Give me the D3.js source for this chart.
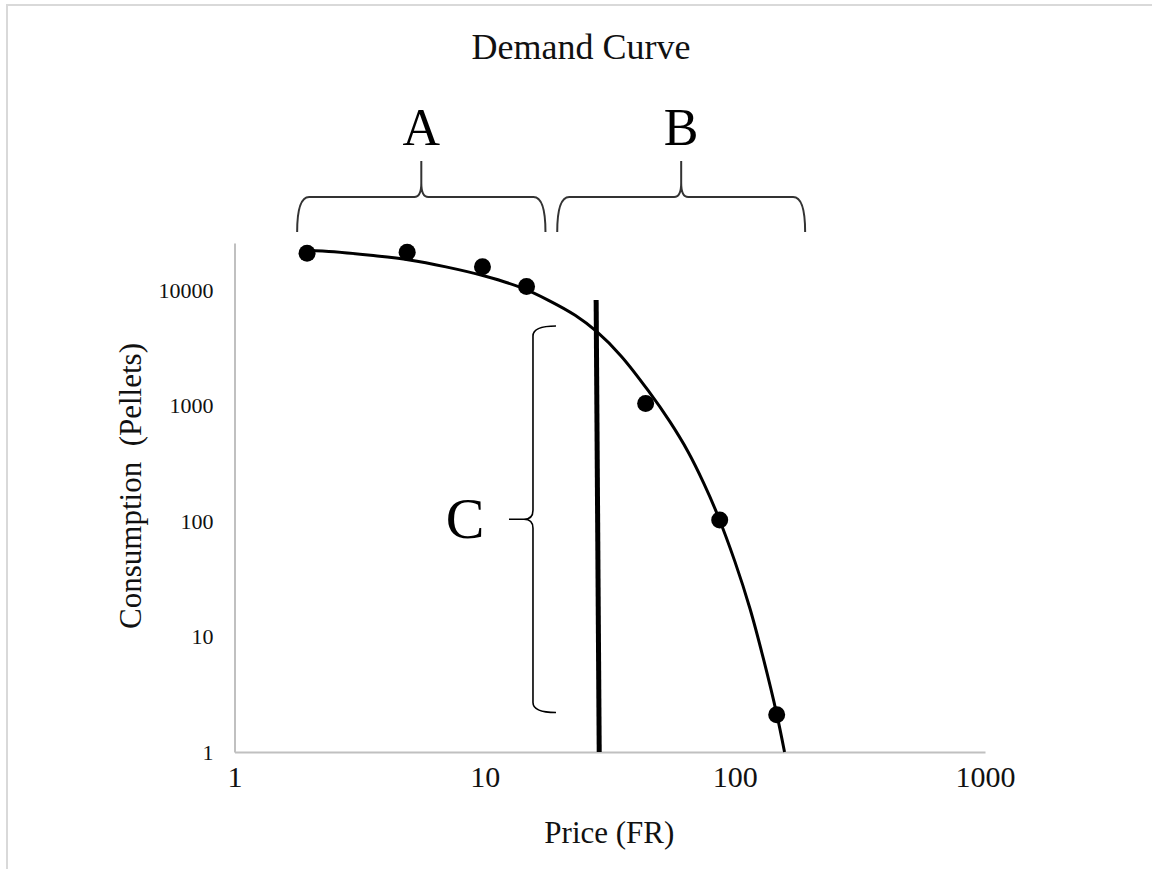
<!DOCTYPE html>
<html>
<head>
<meta charset="utf-8">
<script src="https://cdn.jsdelivr.net/npm/d3@7/dist/d3.min.js"></script>
<style>
  body { margin: 0; background: #fff; }
  svg { display: block; font-family: "Liberation Serif", "Times New Roman", serif; }
</style>
</head>
<body>
<svg id="chart"></svg>
<script>
// measured points (price in FR, consumption in pellets)
const pointPrice = [1.95, 4.9, 9.8, 14.7, 44, 87, 147];
const pointConsumption = [20800, 21200, 15900, 10700, 1040, 102, 2.1];

// fitted demand curve
const curvePrice = [1.95, 2.5, 3.5, 5, 7, 10, 14, 18, 23, 28, 35, 45, 55, 65, 75, 85, 100, 115, 130, 147, 158];
const curveConsumption = [22100, 21400, 19950, 18200, 15850, 13200, 10470, 8130, 6030, 4370, 2700, 1350, 724, 398, 214, 115, 44.7, 17.4, 6.46, 2.14, 1];

// vertical marker line (top, bottom)
const markerPrice = [27.9, 28.7];
const markerConsumption = [8190, 1];

const xTicks = [1, 10, 100, 1000];
const yTicks = [1, 10, 100, 1000, 10000];

// brace annotations
const braceLabels = ['A', 'B'];
const bracePriceFrom = [1.78, 19.5];
const bracePriceTo = [17.5, 191];
const braceCLabel = 'C';
const braceCConsumption = [4880, 2.2];
const braceCPrice = 15.6;

class DemandChart {

  constructor(_config) {
    this.config = {
      parentElement: _config.parentElement,
      containerWidth: _config.containerWidth || 1152,
      containerHeight: _config.containerHeight || 869,
      margin: { top: 243, bottom: 117, right: 167, left: 234.5 }
    }
    this.initVis();
  }

  initVis() {
    let vis = this;

    vis.width = vis.config.containerWidth - vis.config.margin.left - vis.config.margin.right;
    vis.height = vis.config.containerHeight - vis.config.margin.top - vis.config.margin.bottom;

    vis.svg = d3.select(vis.config.parentElement)
        .attr('width', vis.config.containerWidth)
        .attr('height', vis.config.containerHeight);

    // light frame, only top and left show up in the picture
    vis.svg.append('rect')
        .attr('x', 7).attr('y', 5)
        .attr('width', 1300).attr('height', 1000)
        .attr('fill', 'none')
        .attr('stroke', '#d9d9d9')
        .attr('stroke-width', 2);

    vis.chart = vis.svg.append('g')
        .attr('transform', `translate(${vis.config.margin.left},${vis.config.margin.top})`);

    vis.xScale = d3.scaleLog()
        .domain([1, 1000])
        .range([0, vis.width]);

    vis.yScale = d3.scaleLog()
        .domain([1, 25500])
        .range([vis.height, 0]);

    // axes: plain gray lines, no ticks
    vis.xAxis = d3.axisBottom(vis.xScale).tickValues(xTicks).tickSize(0).tickPadding(14).tickFormat(d3.format('d'));
    vis.yAxis = d3.axisLeft(vis.yScale).tickValues(yTicks).tickSize(0).tickPadding(21).tickFormat(d3.format('d'));

    vis.xAxisG = vis.chart.append('g')
        .attr('class', 'axis x-axis')
        .attr('transform', `translate(0,${vis.height})`)
        .call(vis.xAxis);

    vis.yAxisG = vis.chart.append('g')
        .attr('class', 'axis y-axis')
        .call(vis.yAxis);

    vis.chart.selectAll('.axis path')
        .attr('stroke', '#c0c0c0')
        .attr('stroke-width', 2);

    vis.xAxisG.selectAll('text')
        .attr('font-family', '"Liberation Serif", serif')
        .attr('font-size', 30)
        .attr('fill', '#111');

    vis.yAxisG.selectAll('text')
        .attr('font-family', '"Liberation Serif", serif')
        .attr('font-size', 22)
        .attr('fill', '#111');

    vis.updateVis();
  }

  updateVis() {
    let vis = this;

    vis.points = pointPrice.map((p, i) => ({ price: p, value: pointConsumption[i] }));
    vis.curve = curvePrice.map((p, i) => ({ price: p, value: curveConsumption[i] }));
    vis.marker = markerPrice.map((p, i) => ({ price: p, value: markerConsumption[i] }));

    vis.renderVis();
  }

  renderVis() {
    let vis = this;
    const x = vis.xScale, y = vis.yScale;

    const line = d3.line()
        .x(d => x(d.price))
        .y(d => y(d.value))
        .curve(d3.curveCatmullRom.alpha(0.5));

    vis.chart.append('path')
        .datum(vis.curve)
        .attr('fill', 'none')
        .attr('stroke', '#000')
        .attr('stroke-width', 3)
        .attr('d', line);

    vis.chart.selectAll('.dot')
      .data(vis.points)
      .enter()
      .append('circle')
        .attr('class', 'dot')
        .attr('cx', d => x(d.price))
        .attr('cy', d => y(d.value))
        .attr('r', 8.5)
        .attr('fill', '#000');

    // thick vertical line
    vis.chart.append('line')
        .attr('x1', x(vis.marker[0].price))
        .attr('y1', y(vis.marker[0].value))
        .attr('x2', x(vis.marker[1].price))
        .attr('y2', y(vis.marker[1].value))
        .attr('stroke', '#000')
        .attr('stroke-width', 5);

    // horizontal braces A and B above the plot
    const yH = -46, yEnd = -11, yTop = -82;
    braceLabels.forEach((lab, i) => {
      const x0 = x(bracePriceFrom[i]), x1 = x(bracePriceTo[i]);
      const xm = (x0 + x1) / 2;
      const p = d3.path();
      p.moveTo(x0, yEnd);
      p.quadraticCurveTo(x0, yH, x0 + 12, yH);
      p.lineTo(xm - 7, yH);
      p.quadraticCurveTo(xm, yH, xm, yH - 14);
      p.lineTo(xm, yTop);
      p.moveTo(xm, yH - 14);
      p.quadraticCurveTo(xm, yH, xm + 7, yH);
      p.lineTo(x1 - 12, yH);
      p.quadraticCurveTo(x1, yH, x1, yEnd);
      vis.chart.append('path')
          .attr('d', p.toString())
          .attr('fill', 'none')
          .attr('stroke', '#333')
          .attr('stroke-width', 2);

      vis.chart.append('text')
          .attr('x', xm)
          .attr('y', -98)
          .attr('text-anchor', 'middle')
          .attr('font-size', 52)
          .attr('fill', '#000')
          .text(lab);
    });

    // vertical brace C
    const xV = x(braceCPrice);
    const yT = y(braceCConsumption[0]), yB = y(braceCConsumption[1]);
    const ym = (yT + yB) / 2;
    const c = d3.path();
    c.moveTo(xV + 23, yT);
    c.quadraticCurveTo(xV, yT, xV, yT + 10);
    c.lineTo(xV, ym - 9);
    c.quadraticCurveTo(xV, ym, xV - 9, ym);
    c.lineTo(xV - 24, ym);
    c.moveTo(xV - 9, ym);
    c.quadraticCurveTo(xV, ym, xV, ym + 9);
    c.lineTo(xV, yB - 10);
    c.quadraticCurveTo(xV, yB, xV + 23, yB);
    vis.chart.append('path')
        .attr('d', c.toString())
        .attr('fill', 'none')
        .attr('stroke', '#000')
        .attr('stroke-width', 1.6);

    vis.chart.append('text')
        .attr('x', xV - 68)
        .attr('y', ym + 19)
        .attr('text-anchor', 'middle')
        .attr('font-size', 58)
        .attr('fill', '#000')
        .text(braceCLabel);

    // titles
    vis.svg.append('text')
        .attr('x', 581)
        .attr('y', 59)
        .attr('text-anchor', 'middle')
        .attr('font-size', 36)
        .attr('fill', '#111')
        .text('Demand Curve');

    vis.svg.append('text')
        .attr('x', vis.config.margin.left + x(31.5))
        .attr('y', 843)
        .attr('text-anchor', 'middle')
        .attr('font-size', 31)
        .attr('fill', '#111')
        .text('Price (FR)');

    vis.svg.append('text')
        .attr('transform', 'translate(141,486) rotate(-90)')
        .attr('text-anchor', 'middle')
        .attr('font-size', 31)
        .attr('fill', '#111')
        .style('white-space', 'pre')
        .text('Consumption  (Pellets)');
  }
}

new DemandChart({ parentElement: '#chart', containerWidth: 1152, containerHeight: 869 });
</script>
</body>
</html>
